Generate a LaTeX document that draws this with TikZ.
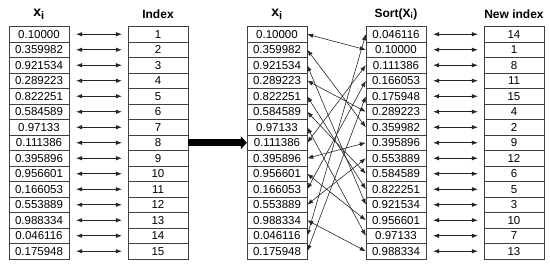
\documentclass[tikz,border=0pt]{standalone}
\usepackage{fontspec}
\setmainfont{Liberation Sans}
\usetikzlibrary{arrows.meta}

\tikzset{
  cell/.style={draw=black!75, minimum width=60pt, minimum height=15.5pt,
    inner sep=0pt, font=\fontsize{11.5}{12}\selectfont},
  head/.style={font=\fontsize{12}{13}\selectfont\bfseries},
  link/.style={{Latex[length=6pt,width=4.5pt]}-{Latex[length=6pt,width=4.5pt]},
    line width=0.6pt, black!85}
}

\begin{document}
\begin{tikzpicture}[x=1pt, y=-1pt]
    \useasboundingbox (0,0) rectangle (550,267);
    % headings
    \node[head, font=\fontsize{14}{14}\selectfont\bfseries] (ha) at (39,14) {x\textsubscript{\fontsize{11}{11}\selectfont i}};
    \node[head] (hb) at (158,14) {Index};
    \node[head, font=\fontsize{14}{14}\selectfont\bfseries] (hc) at (277,14) {x\textsubscript{\fontsize{11}{11}\selectfont i}};
    \node[head] (hd) at (396,14) {Sort(X\textsubscript{i})};
    \node[head] (he) at (514,14) {New index};
    % original values and index
    \foreach \v [count=\i] in {0.10000,0.359982,0.921534,0.289223,0.822251,
        0.584589,0.97133,0.111386,0.395896,0.956601,0.166053,0.553889,
        0.988334,0.046116,0.175948} {
        \node[cell] (a\i) at (39, 18.75+15.5*\i) {\v};
        \node[cell] (b\i) at (158, 18.75+15.5*\i) {\i};
        \node[cell] (c\i) at (277, 18.75+15.5*\i) {\v};
        \draw[link] ([xshift=7pt]a\i.east) -- ([xshift=-6pt]b\i.west);
    }
    % sorted values and new index
    \foreach \v/\n [count=\i] in {0.046116/14,0.10000/1,0.111386/8,0.166053/11,
        0.175948/15,0.289223/4,0.359982/2,0.395896/9,0.553889/12,0.584589/6,
        0.822251/5,0.921534/3,0.956601/10,0.97133/7,0.988334/13} {
        \node[cell] (d\i) at (396, 18.75+15.5*\i) {\v};
        \node[cell] (e\i) at (514, 18.75+15.5*\i) {\n};
        \draw[link] ([xshift=7pt]d\i.east) -- ([xshift=-6pt]e\i.west);
    }
    % crossing links
    \foreach \n [count=\i] in {14,1,8,11,15,4,2,9,12,6,5,3,10,7,13}
        \draw[link] (c\n.east) -- (d\i.west);
    % big arrow
    \draw[-{Triangle[length=6pt,width=13pt]}, line width=7pt] (b8.east) -- (c8.west);
\end{tikzpicture}
\end{document}
